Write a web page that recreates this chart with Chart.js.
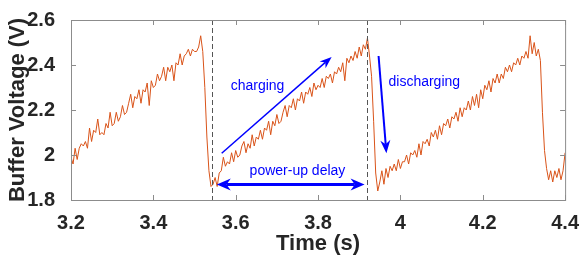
<!DOCTYPE html>
<html>
<head>
<meta charset="utf-8">
<script src="https://cdn.jsdelivr.net/npm/chart.js@4.4.1/dist/chart.umd.min.js"></script>
<style>
  html, body { margin: 0; padding: 0; background: #fff; }
  #wrap { width: 582px; height: 261px; }
</style>
</head>
<body>
<div id="wrap"><canvas id="chart"></canvas></div>
<script>
// sample times (s) and buffer voltage (V)
const timeS = [
  3.200, 3.205, 3.210, 3.215, 3.220, 3.225, 3.230, 3.235, 3.240, 3.245,
  3.250, 3.255, 3.260, 3.265, 3.270, 3.275, 3.280, 3.285, 3.290, 3.295,
  3.300, 3.305, 3.310, 3.315, 3.320, 3.325, 3.330, 3.335, 3.340, 3.345,
  3.350, 3.355, 3.360, 3.365, 3.370, 3.375, 3.380, 3.385, 3.390, 3.395,
  3.400, 3.405, 3.410, 3.415, 3.420, 3.425, 3.430, 3.435, 3.440, 3.445,
  3.450, 3.455, 3.460, 3.465, 3.470, 3.475, 3.480, 3.485, 3.490, 3.495,
  3.500, 3.505, 3.510, 3.515, 3.520, 3.525, 3.530, 3.535, 3.540,
  3.545, 3.550, 3.555, 3.560, 3.565, 3.570, 3.575, 3.580, 3.585, 3.590,
  3.595, 3.600, 3.605, 3.610, 3.615, 3.620, 3.625, 3.630, 3.635, 3.640,
  3.645, 3.650, 3.655, 3.660, 3.665, 3.670, 3.675, 3.680, 3.685, 3.690,
  3.695, 3.700, 3.705, 3.710, 3.715, 3.720, 3.725, 3.730, 3.735, 3.740,
  3.745, 3.750, 3.755, 3.760, 3.765, 3.770, 3.775, 3.780, 3.785, 3.790,
  3.795, 3.800, 3.805, 3.810, 3.815, 3.820, 3.825, 3.830, 3.835, 3.840,
  3.845, 3.850, 3.855, 3.860, 3.865, 3.870, 3.875, 3.880, 3.885, 3.890,
  3.895, 3.900, 3.905, 3.910, 3.915, 3.920, 3.925, 3.930, 3.935, 3.940,
  3.945,
  3.950, 3.955, 3.960, 3.965, 3.970, 3.975, 3.980, 3.985, 3.990, 3.995,
  4.000, 4.005, 4.010, 4.015, 4.020, 4.025, 4.030, 4.035, 4.040, 4.045,
  4.050, 4.055, 4.060, 4.065, 4.070, 4.075, 4.080, 4.085, 4.090, 4.095,
  4.100, 4.105, 4.110, 4.115, 4.120, 4.125, 4.130, 4.135, 4.140, 4.145,
  4.150, 4.155, 4.160, 4.165, 4.170, 4.175, 4.180, 4.185, 4.190, 4.195,
  4.200, 4.205, 4.210, 4.215, 4.220, 4.225, 4.230, 4.235, 4.240, 4.245,
  4.250, 4.255, 4.260, 4.265, 4.270, 4.275, 4.280, 4.285, 4.290, 4.295,
  4.300, 4.305, 4.310, 4.315, 4.320, 4.325, 4.330, 4.335, 4.340, 4.345,
  4.350, 4.355, 4.360, 4.365, 4.370, 4.375, 4.380, 4.385, 4.390, 4.395,
  4.400
];
const voltageV = [
  1.99, 1.96, 2.03, 1.98, 2.03, 2.05, 2.04, 2.06, 2.03, 2.12,
  2.06, 2.11, 2.10, 2.16, 2.09, 2.10, 2.09, 2.14, 2.12, 2.19,
  2.13, 2.14, 2.19, 2.15, 2.17, 2.22, 2.18, 2.19, 2.23, 2.27,
  2.21, 2.26, 2.25, 2.29, 2.23, 2.29, 2.28, 2.32, 2.22, 2.33,
  2.30, 2.31, 2.36, 2.33, 2.35, 2.39, 2.33, 2.39, 2.37, 2.40,
  2.33, 2.41, 2.40, 2.45, 2.40, 2.44, 2.45, 2.47, 2.44, 2.47,
  2.46, 2.46, 2.48, 2.53, 2.46, 2.30, 2.08, 1.93, 1.86,
  1.87, 1.90, 1.86, 1.92, 1.93, 1.99, 1.95, 1.97, 1.96, 2.01,
  1.97, 2.02, 1.99, 2.00, 2.04, 2.06, 2.01, 2.05, 2.03, 2.09,
  2.04, 2.08, 2.07, 2.11, 2.07, 2.12, 2.11, 2.15, 2.09, 2.15,
  2.13, 2.18, 2.14, 2.15, 2.19, 2.22, 2.17, 2.22, 2.21, 2.25,
  2.20, 2.25, 2.24, 2.28, 2.23, 2.28, 2.27, 2.30, 2.26, 2.32,
  2.29, 2.31, 2.30, 2.34, 2.30, 2.35, 2.34, 2.36, 2.32, 2.37,
  2.36, 2.39, 2.37, 2.41, 2.33, 2.43, 2.41, 2.44, 2.42, 2.46,
  2.43, 2.48, 2.44, 2.49, 2.47, 2.52, 2.44, 2.35, 2.15, 1.92,
  1.84,
  1.88, 1.93, 1.87, 1.94, 1.90, 1.95, 1.93, 1.96, 1.93, 1.98,
  1.94, 1.97, 1.97, 2.00, 1.96, 2.01, 2.00, 2.02, 1.99, 2.05,
  2.00, 2.06, 2.05, 2.07, 2.04, 2.10, 2.08, 2.11, 2.07, 2.13,
  2.09, 2.14, 2.13, 2.16, 2.12, 2.17, 2.16, 2.19, 2.15, 2.21,
  2.17, 2.21, 2.20, 2.24, 2.20, 2.26, 2.22, 2.27, 2.21, 2.29,
  2.25, 2.31, 2.29, 2.33, 2.28, 2.34, 2.32, 2.36, 2.32, 2.36,
  2.34, 2.39, 2.37, 2.40, 2.37, 2.41, 2.40, 2.43, 2.40, 2.44,
  2.43, 2.46, 2.43, 2.53, 2.45, 2.50, 2.44, 2.47, 2.42, 2.19,
  2.02, 1.94, 1.89, 1.93, 1.88, 1.93, 1.90, 1.94, 1.89, 1.93,
  2.01
];

const xTicks = [3.2, 3.4, 3.6, 3.8, 4, 4.2, 4.4];
const xTickLabels = ["3.2", "3.4", "3.6", "3.8", "4", "4.2", "4.4"];
const yTicks = [1.8, 2, 2.2, 2.4, 2.6];
const yTickLabels = ["1.8", "2", "2.2", "2.4", "2.6"];

// vertical dashed markers (s)
const markerTimes = [3.542, 3.92];

// annotations, in data units [time, voltage]
const noteLabels = ["charging", "discharging", "power-up delay"];
const noteAt = [[3.653, 2.306], [4.058, 2.323], [3.750, 1.930]];
const arrowFrom = [[3.566, 2.008], [3.947, 2.44], [3.554, 1.869]];
const arrowTo = [[3.833, 2.436], [3.966, 2.008], [3.913, 1.869]];
const arrowBoth = [false, false, true];

const FONT = "'Liberation Sans', Arial, Helvetica, sans-serif";
const INK = "#262626";
const AXIS = "#8c8c8c";
const BLUE = "#0000ff";
const ARROW_W = [1.5, 2, 3];
const HEAD_L = [12, 13, 14];
const HEAD_H = [4.5, 5, 6];

function head(ctx, tx, ty, ang, len, half) {
  const c = Math.cos(ang), s = Math.sin(ang);
  ctx.beginPath();
  ctx.moveTo(tx, ty);
  ctx.lineTo(tx - len * c + half * s, ty - len * s - half * c);
  ctx.lineTo(tx - 0.7 * len * c, ty - 0.7 * len * s);
  ctx.lineTo(tx - len * c - half * s, ty - len * s + half * c);
  ctx.closePath();
  ctx.fill();
}

const frame = {
  id: "frame",
  afterDatasetsDraw(chart) {
    const { ctx, chartArea: a, scales: { x, y } } = chart;
    ctx.save();

    // dashed markers
    ctx.strokeStyle = "#555";
    ctx.lineWidth = 1;
    ctx.setLineDash([5, 3]);
    markerTimes.forEach((t) => {
      const px = Math.round(x.getPixelForValue(t)) + 0.5;
      ctx.beginPath();
      ctx.moveTo(px, a.top);
      ctx.lineTo(px, a.bottom);
      ctx.stroke();
    });
    ctx.setLineDash([]);

    // box + inward ticks
    ctx.strokeStyle = AXIS;
    ctx.strokeRect(a.left + 0.5, a.top + 0.5, a.right - a.left, a.bottom - a.top);
    ctx.beginPath();
    xTicks.forEach((v) => {
      const px = Math.round(x.getPixelForValue(v)) + 0.5;
      ctx.moveTo(px, a.bottom); ctx.lineTo(px, a.bottom - 5);
      ctx.moveTo(px, a.top); ctx.lineTo(px, a.top + 5);
    });
    yTicks.forEach((v) => {
      const py = Math.round(y.getPixelForValue(v)) + 0.5;
      ctx.moveTo(a.left, py); ctx.lineTo(a.left + 5, py);
      ctx.moveTo(a.right, py); ctx.lineTo(a.right - 5, py);
    });
    ctx.stroke();

    // arrows
    ctx.strokeStyle = BLUE;
    ctx.fillStyle = BLUE;
    arrowFrom.forEach((f, i) => {
      const x1 = x.getPixelForValue(f[0]), y1 = y.getPixelForValue(f[1]);
      const x2 = x.getPixelForValue(arrowTo[i][0]), y2 = y.getPixelForValue(arrowTo[i][1]);
      const ang = Math.atan2(y2 - y1, x2 - x1);
      const back = 0.7 * HEAD_L[i];
      const sx = arrowBoth[i] ? x1 + back * Math.cos(ang) : x1;
      const sy = arrowBoth[i] ? y1 + back * Math.sin(ang) : y1;
      ctx.lineWidth = ARROW_W[i];
      ctx.beginPath();
      ctx.moveTo(sx, sy);
      ctx.lineTo(x2 - back * Math.cos(ang), y2 - back * Math.sin(ang));
      ctx.stroke();
      head(ctx, x2, y2, ang, HEAD_L[i], HEAD_H[i]);
      if (arrowBoth[i]) head(ctx, x1, y1, ang + Math.PI, HEAD_L[i], HEAD_H[i]);
    });

    // labels
    ctx.font = "14px " + FONT;
    ctx.textAlign = "center";
    ctx.textBaseline = "middle";
    noteLabels.forEach((txt, i) => {
      ctx.fillText(txt, x.getPixelForValue(noteAt[i][0]), y.getPixelForValue(noteAt[i][1]));
    });
    ctx.restore();
  }
};

const points = timeS.map((t, i) => ({ x: t, y: voltageV[i] }));

new Chart(document.getElementById("chart"), {
  type: "line",
  data: {
    datasets: [{
      data: points,
      borderColor: "#D95319",
      borderWidth: 1,
      pointRadius: 0,
      tension: 0,
      fill: false
    }]
  },
  options: {
    responsive: true,
    maintainAspectRatio: false,
    devicePixelRatio: 1,
    animation: false,
    events: [],
    layout: { padding: { top: 15, right: 16, bottom: 0, left: 0 } },
    plugins: { legend: { display: false }, tooltip: { enabled: false } },
    scales: {
      x: {
        type: "linear",
        min: 3.2,
        max: 4.4,
        afterBuildTicks: (s) => { s.ticks = xTicks.map((v) => ({ value: v })); },
        afterFit: (s) => { s.height = 61; },
        grid: { display: false },
        border: { display: false },
        ticks: {
          padding: 3,
          color: INK,
          font: { family: FONT, size: 20, weight: "bold" },
          callback: (v, i) => xTickLabels[i]
        },
        title: {
          display: true,
          text: "Time (s)",
          color: INK,
          font: { family: FONT, size: 22, weight: "bold" },
          padding: { top: 0, bottom: 4 }
        }
      },
      y: {
        min: 1.8,
        max: 2.6,
        afterBuildTicks: (s) => { s.ticks = yTicks.map((v) => ({ value: v })); },
        afterFit: (s) => { s.width = 71; },
        grid: { display: false },
        border: { display: false },
        ticks: {
          padding: 8,
          color: INK,
          font: { family: FONT, size: 20, weight: "bold" },
          callback: (v, i) => yTickLabels[i]
        },
        title: {
          display: true,
          text: "Buffer Voltage (V)",
          color: INK,
          font: { family: FONT, size: 22, weight: "bold" },
          padding: { top: 5, bottom: 0 }
        }
      }
    }
  },
  plugins: [frame]
});
</script>
</body>
</html>
